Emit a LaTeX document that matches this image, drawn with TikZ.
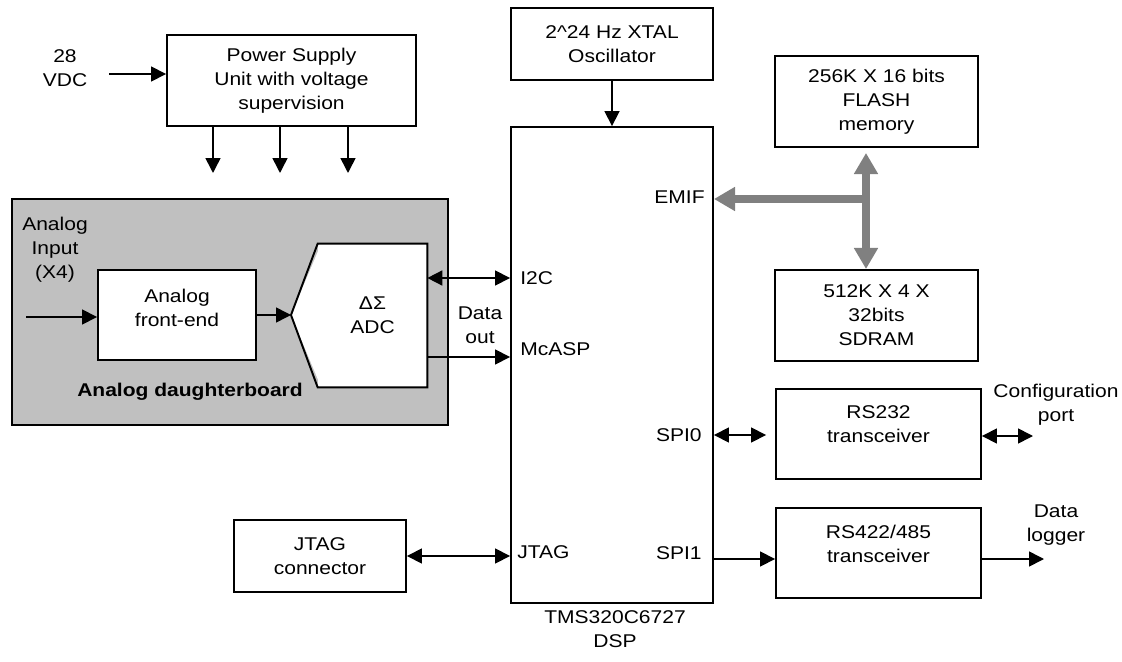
\documentclass[tikz,border=0pt]{standalone}
\usepackage{fontspec}
\setmainfont{Liberation Sans}[FakeStretch=1.14]
\usepackage{tikz}
\usetikzlibrary{arrows.meta}

\definecolor{boardgray}{RGB}{192,192,192}
\definecolor{busgray}{RGB}{128,128,128}

\begin{document}
\begin{tikzpicture}[x=0.02cm, y=-0.02cm,
    every node/.style={font=\fontsize{10.5pt}{13.6pt}\selectfont, align=center},
    block/.style={draw, line width=1.1pt, fill=white},
    port/.style={inner sep=0pt},
    arr/.style={line width=0.9pt, -{Triangle[length=8.5pt, width=8.5pt]}},
    dblarr/.style={line width=0.9pt, {Triangle[length=8.5pt, width=8.5pt]}-{Triangle[length=8.5pt, width=8.5pt]}},
    busarr/.style={busgray, line width=4pt, -{Triangle[length=12pt, width=13pt]}},
    busdbl/.style={busgray, line width=4pt, {Triangle[length=12pt, width=13pt]}-{Triangle[length=12pt, width=13pt]}}]
    \useasboundingbox (0,0) rectangle (1122,662);

    % Draw the power supply and its input
    \node[block, minimum width=4.98cm, minimum height=1.82cm] (psu) at (291.5,80.5) {Power Supply\\Unit with voltage\\supervision};
    \node (vdc) at (65,68) {28\\VDC};
    \coordinate (vin) at (109,74);
    \draw[arr] (vin) -- (vin -| psu.west);

    % Draw the supply outputs
    \coordinate (pwr1) at (213,173);
    \coordinate (pwr2) at (280,173);
    \coordinate (pwr3) at (348,173);
    \draw[arr] (pwr1 |- psu.south) -- (pwr1);
    \draw[arr] (pwr2 |- psu.south) -- (pwr2);
    \draw[arr] (pwr3 |- psu.south) -- (pwr3);

    % Draw the analog daughterboard
    \node[draw, line width=1.1pt, fill=boardgray, minimum width=8.72cm, minimum height=4.52cm] (board) at (230,312) {};
    \node (ain) at (55,250) {Analog\\Input\\(X4)};
    \node[font=\fontsize{10.5pt}{13.6pt}\selectfont\bfseries] (boardname) at (190,392) {Analog daughterboard};
    \node[block, minimum width=3.16cm, minimum height=1.8cm, text depth=8pt] (afe) at (177,315) {Analog\\front-end};
    \coordinate (ainend) at (26,317);
    \draw[arr] (ainend) -- (ainend -| afe.west);

    % Draw the ADC
    \node[fill=white, minimum width=2.18cm, minimum height=2.86cm] (adc) at (372.5,315.5) {ΔΣ\\ADC};
    \coordinate (adctip) at (291,315);
    \fill[white] ([xshift=2pt]adc.north west) -- (adctip) -- ([xshift=2pt]adc.south west) -- cycle;
    \draw[line width=1.1pt] (adc.north west) -- (adc.north east) -- (adc.south east) -- (adc.south west) -- (adctip) -- cycle;
    \draw[arr] (afe.east) -- (adctip);

    % Draw the DSP and the oscillator
    \node[block, minimum width=4.04cm, minimum height=9.52cm] (dsp) at (612,365) {};
    \node (dspname) at (615,629) {TMS320C6727\\DSP};
    \node[block, minimum width=4.04cm, minimum height=1.44cm] (osc) at (612,44) {2\textasciicircum 24 Hz XTAL\\Oscillator};
    \draw[arr] (osc.south) -- (dsp.north);

    % Draw the DSP ports
    \node[port, anchor=west] (i2c) at (520,278) {I2C};
    \node[port, anchor=west] (mcasp) at (520,349) {McASP};
    \node[port, anchor=west] (jtagport) at (517,552) {JTAG};
    \node[port, anchor=east] (emif) at (705,197) {EMIF};
    \node[port, anchor=east] (spi0) at (702,435) {SPI0};
    \node[port, anchor=east] (spi1) at (702,553) {SPI1};

    % Draw the ADC links
    \draw[dblarr] (adc.east |- i2c) -- (dsp.west |- i2c);
    \coordinate (dout) at (0,357);
    \draw[arr] (adc.east |- dout) -- (dsp.west |- dout);
    \node (dataout) at (480,325) {Data\\out};

    % Draw the JTAG connector
    \node[block, minimum width=3.44cm, minimum height=1.44cm] (jtag) at (320,556) {JTAG\\connector};
    \draw[dblarr] (jtag.east) -- (dsp.west |- jtag.east);

    % Draw the memories and the bus
    \node[block, minimum width=4.06cm, minimum height=1.82cm] (flash) at (876.5,101.5) {256K X 16 bits\\FLASH\\memory};
    \node[block, minimum width=4.06cm, minimum height=1.82cm] (sdram) at (876.5,315.5) {512K X 4 X\\32bits\\SDRAM};
    \coordinate (bus) at (866,199);
    \draw[busarr] (bus) -- (dsp.east |- bus);
    \draw[busdbl, shorten <=0.1cm] (flash.south -| bus) -- (sdram.north -| bus);

    % Draw the transceivers
    \node[block, minimum width=4.1cm, minimum height=1.8cm, text depth=11pt] (rs232) at (878.5,434) {RS232\\transceiver};
    \node[block, minimum width=4.1cm, minimum height=1.8cm, text depth=10pt] (rs422) at (878.5,553) {RS422/485\\transceiver};
    \draw[dblarr, shorten >=0.18cm] (dsp.east |- spi0) -- (rs232.west |- spi0);
    \coordinate (cfg) at (1033,436);
    \draw[dblarr] (rs232.east |- cfg) -- (cfg);
    \node (cfgname) at (1056,405) {Configuration\\port};
    \coordinate (dlog) at (1044,559);
    \draw[arr] (dsp.east |- dlog) -- (rs422.west |- dlog);
    \draw[arr] (rs422.east |- dlog) -- (dlog);
    \node (dlogname) at (1056,525) {Data\\logger};
\end{tikzpicture}
\end{document}
